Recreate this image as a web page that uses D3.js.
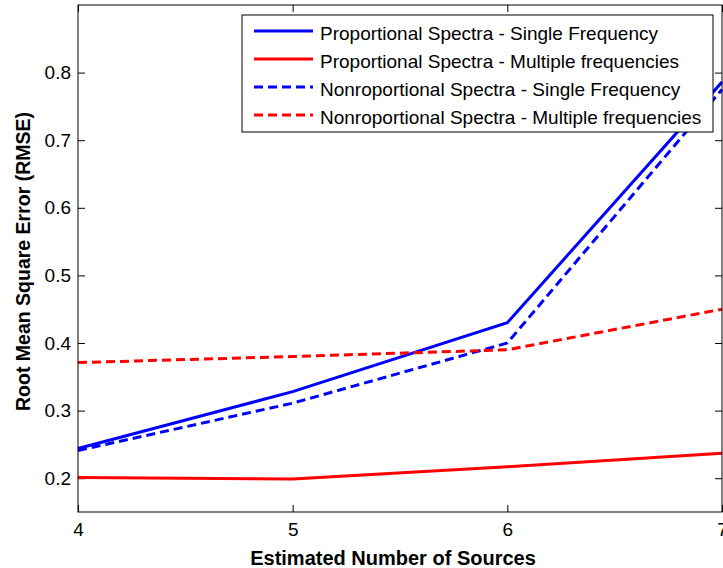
<!DOCTYPE html>
<html>
<head>
<meta charset="utf-8">
<script src="https://cdn.jsdelivr.net/npm/d3@7"></script>
<style>
  body { margin: 0; background: #fff; }
  svg { display: block; font-family: "Liberation Sans", Arial, sans-serif; }
  .axis text { font-size: 19px; fill: #000; }
  .axis line { stroke: #000; }
  .axis path { display: none; }
</style>
</head>
<body>
<div id="chart"></div>
<script>
// values
var sources = [4, 5, 6, 7];
var propSingle = [0.244, 0.328, 0.430, 0.786];
var propMulti = [0.201, 0.199, 0.217, 0.237];
var nonpropSingle = [0.241, 0.311, 0.400, 0.775];
var nonpropMulti = [0.371, 0.380, 0.390, 0.450];

var xTicks = [4, 5, 6, 7];
var yTicks = [0.2, 0.3, 0.4, 0.5, 0.6, 0.7, 0.8];

var seriesNames = [
  "Proportional Spectra - Single Frequency",
  "Proportional Spectra - Multiple frequencies",
  "Nonroportional Spectra - Single Frequency",
  "Nonroportional Spectra - Multiple frequencies"
];
var seriesValues = [propSingle, propMulti, nonpropSingle, nonpropMulti];
var seriesColors = ["#0000ff", "#ff0000", "#0000ff", "#ff0000"];
var seriesDashed = [false, false, true, true];

(function chart() {
  var W = 723, H = 568;
  var margin = { top: 5, right: 1, bottom: 56, left: 78 },
    width = W - margin.left - margin.right,
    height = H - margin.top - margin.bottom;

  var x = d3.scaleLinear().domain([4, 7]).range([0, width]);
  var y = d3.scaleLinear().domain([0.15, 0.9]).range([height, 0]);

  var svg = d3.select("#chart").append("svg")
    .attr("width", W)
    .attr("height", H);

  svg.append("rect").attr("width", W).attr("height", H).attr("fill", "#fff");

  var g = svg.append("g")
    .attr("transform", "translate(" + margin.left + "," + margin.top + ")");

  // axes, ticks pointing inward on all four sides
  g.append("g")
    .attr("class", "axis")
    .attr("transform", "translate(0," + height + ")")
    .call(d3.axisBottom(x).tickValues(xTicks).tickFormat(d3.format("d"))
      .tickSizeInner(-7).tickSizeOuter(0).tickPadding(11));

  g.append("g")
    .attr("class", "axis")
    .call(d3.axisTop(x).tickValues(xTicks).tickFormat("")
      .tickSizeInner(-7).tickSizeOuter(0));

  g.append("g")
    .attr("class", "axis")
    .call(d3.axisLeft(y).tickValues(yTicks).tickFormat(d3.format(".1f"))
      .tickSizeInner(-7).tickSizeOuter(0).tickPadding(7));

  g.append("g")
    .attr("class", "axis")
    .attr("transform", "translate(" + width + ",0)")
    .call(d3.axisRight(y).tickValues(yTicks).tickFormat("")
      .tickSizeInner(-7).tickSizeOuter(0));

  var line = d3.line()
    .x(function(d, i) { return x(sources[i]); })
    .y(function(d) { return y(d); });

  seriesValues.forEach(function(vals, i) {
    g.append("path")
      .datum(vals)
      .attr("fill", "none")
      .attr("stroke", seriesColors[i])
      .attr("stroke-width", 3)
      .attr("stroke-dasharray", seriesDashed[i] ? "9,5" : null)
      .attr("d", line);
  });

  // plot box
  g.append("rect")
    .attr("width", width)
    .attr("height", height)
    .attr("fill", "none")
    .attr("stroke", "#000")
    .attr("stroke-width", 1);

  // axis titles
  svg.append("text")
    .attr("x", margin.left + width / 2 - 7)
    .attr("y", 565)
    .attr("text-anchor", "middle")
    .attr("font-size", "20px")
    .attr("font-weight", "bold")
    .text("Estimated Number of Sources");

  svg.append("text")
    .attr("transform", "translate(29.5," + (margin.top + height / 2 + 3) + ") rotate(-90)")
    .attr("text-anchor", "middle")
    .attr("font-size", "19.5px")
    .attr("font-weight", "bold")
    .text("Root Mean Square Error (RMSE)");

  // legend
  var lg = svg.append("g").attr("transform", "translate(242,15)");
  lg.append("rect")
    .attr("width", 471)
    .attr("height", 117)
    .attr("fill", "#fff")
    .attr("stroke", "#000")
    .attr("stroke-width", 1);

  var rowY = d3.scalePoint().domain(d3.range(seriesNames.length)).range([16, 100]);

  seriesNames.forEach(function(name, i) {
    lg.append("line")
      .attr("x1", 12).attr("x2", 71)
      .attr("y1", rowY(i)).attr("y2", rowY(i))
      .attr("stroke", seriesColors[i])
      .attr("stroke-width", 3)
      .attr("stroke-dasharray", seriesDashed[i] ? "9,5" : null);
    lg.append("text")
      .attr("x", 78)
      .attr("y", rowY(i) + 9)
      .attr("font-size", "19px")
      .text(name);
  });
})();
</script>
</body>
</html>
